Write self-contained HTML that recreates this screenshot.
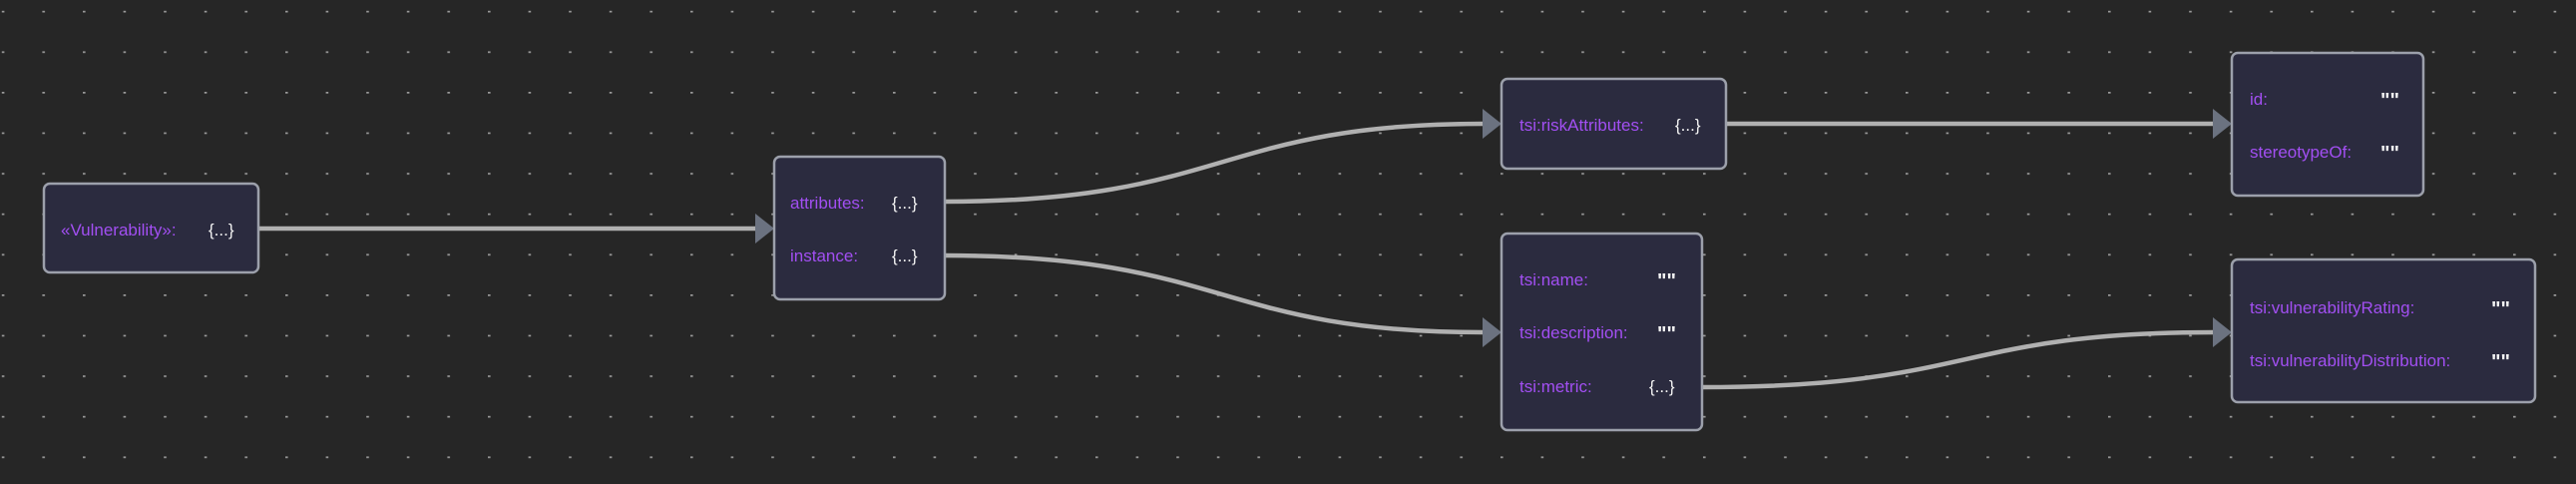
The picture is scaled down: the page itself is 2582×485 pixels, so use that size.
<!DOCTYPE html>
<html><head><meta charset="utf-8"><style>
html,body{margin:0;padding:0;background:#262626;}
svg{display:block}
text{font-family:"Liberation Sans Narrow","Liberation Sans",sans-serif;font-size:17px;}
.k{fill:#a24ff2}
.v{fill:#f4f4f4}
.q{fill:#f4f4f4;font-size:20px;font-weight:bold}
.b{fill:#2b2b3f;stroke:#9ca0ab;stroke-width:2.5}
.e{fill:none;stroke:#b0b0b0;stroke-width:4.5}
.a{fill:#6b7280}
</style></head><body>
<svg width="2582" height="485" viewBox="0 0 2582 485" xmlns="http://www.w3.org/2000/svg">
<defs><pattern id="g" x="1.8" y="10.8" width="40.6" height="40.6" patternUnits="userSpaceOnUse"><rect x="0" y="-1.5" width="2.6" height="3.2" fill="#9a9a9a"/></pattern></defs>
<rect width="2582" height="485" fill="#262626"/>
<rect width="2582" height="485" fill="url(#g)"/>

<path class="e" d="M259 229 L758 229"/>
<polygon class="a" points="757,214 776,229 757,244"/>
<path class="e" d="M947 202 C1230 202, 1220 124, 1487 124"/>
<polygon class="a" points="1486,109 1505,124 1486,139"/>
<path class="e" d="M947 256 C1230 256, 1220 333, 1487 333"/>
<polygon class="a" points="1486,318 1505,333 1486,348"/>
<path class="e" d="M1730 124 L2219 124"/>
<polygon class="a" points="2218,109 2237,124 2218,139"/>
<path class="e" d="M1706 388 C1980 388, 1960 333, 2219 333"/>
<polygon class="a" points="2218,318 2237,333 2218,348"/>

<rect class="b" x="44" y="184" width="215" height="89" rx="6"/>
<text class="k" x="61" y="236">«Vulnerability»:</text><text class="v" x="209" y="236">{...}</text>

<rect class="b" x="776" y="157" width="171" height="143" rx="6"/>
<text class="k" x="792" y="209">attributes:</text><text class="v" x="894" y="209">{...}</text>
<text class="k" x="792" y="262">instance:</text><text class="v" x="894" y="262">{...}</text>

<rect class="b" x="1505" y="79" width="225" height="90" rx="6"/>
<text class="k" x="1523" y="131">tsi:riskAttributes:</text><text class="v" x="1679" y="131">{...}</text>

<rect class="b" x="2237" y="53" width="192" height="143" rx="6"/>
<text class="k" x="2255" y="105">id:</text><text class="q" x="2386" y="107">""</text>
<text class="k" x="2255" y="158">stereotypeOf:</text><text class="q" x="2386" y="160">""</text>

<rect class="b" x="1505" y="234" width="201" height="197" rx="6"/>
<text class="k" x="1523" y="286">tsi:name:</text><text class="q" x="1661" y="288">""</text>
<text class="k" x="1523" y="339">tsi:description:</text><text class="q" x="1661" y="341">""</text>
<text class="k" x="1523" y="393">tsi:metric:</text><text class="v" x="1653" y="393">{...}</text>

<rect class="b" x="2237" y="260" width="304" height="143" rx="6"/>
<text class="k" x="2255" y="314">tsi:vulnerabilityRating:</text><text class="q" x="2497" y="316">""</text>
<text class="k" x="2255" y="367">tsi:vulnerabilityDistribution:</text><text class="q" x="2497" y="369">""</text>
</svg>
</body></html>
